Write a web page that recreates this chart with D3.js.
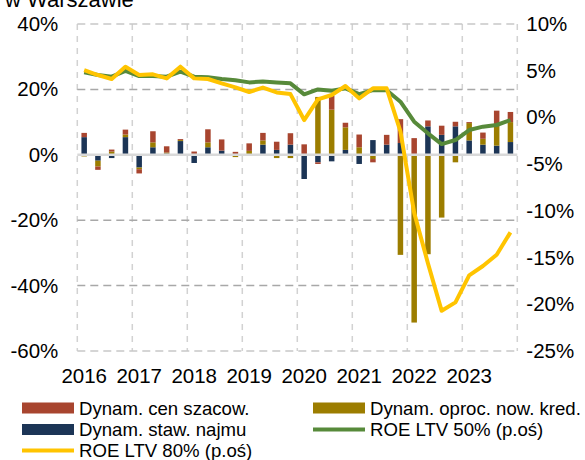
<!DOCTYPE html>
<html>
<head>
<meta charset="utf-8">
<script src="https://cdn.jsdelivr.net/npm/d3@7"></script>
<style>
  html, body { margin: 0; padding: 0; background: #fff; }
  svg { display: block; font-family: "Liberation Sans", Arial, sans-serif; }
</style>
</head>
<body>
<svg id="chart" width="585" height="460"></svg>
<script>
// Quarterly categories, 2016Q1 – 2023Q4
const quarters = [
  "2016Q1","2016Q2","2016Q3","2016Q4","2017Q1","2017Q2","2017Q3","2017Q4",
  "2018Q1","2018Q2","2018Q3","2018Q4","2019Q1","2019Q2","2019Q3","2019Q4",
  "2020Q1","2020Q2","2020Q3","2020Q4","2021Q1","2021Q2","2021Q3","2021Q4",
  "2022Q1","2022Q2","2022Q3","2022Q4","2023Q1","2023Q2","2023Q3","2023Q4"
];
const yearLabels = ["2016","2017","2018","2019","2020","2021","2022","2023"];

// Contributions (pp, left axis)
const rentDyn = [ 5.4,-1.8,-1.0, 5.4,-3.9, 2.3, 0.4, 4.2,
                 -2.5, 2.3, 1.3, 0.0, 0.0, 3.1, 1.5, 3.1,
                 -7.4,-2.3,-2.0, 1.5,-2.8, 4.5, 3.1, 3.6,
                  0.0, 8.7, 6.1, 8.7, 4.4, 3.1, 2.8, 3.9];
const creditDyn = [-0.5,-1.8, 1.0, 0.8,-0.5, 1.5, 0.3, 0.3,
                    0.0, 1.5, 0.0,-0.7, 1.2, 1.3,-1.0,-1.0,
                    0.0,17.7,13.8, 6.9, 2.3,-1.3,-0.3,-30.6,
                  -51.3,-30.4,-19.2,-2.3, 5.3, 1.8, 6.4, 6.1];
const priceDyn = [ 1.3,-1.0, 0.6, 1.5,-1.3, 3.4, 1.9, 0.3,
                   1.0, 4.0, 3.4, 0.9, 2.3, 2.3, 2.5, 3.5,
                   3.2,-0.5, 4.3, 1.4, 3.9,-1.0, 3.0, 7.3,
                   5.1, 1.8, 2.8, 1.4, 0.3, 1.9, 4.3, 3.1];

// ROE (%, right axis)
const roeLtv50 = [4.83,4.54,4.36,4.97,4.43,4.43,4.36,4.90,
                  4.36,4.29,4.11,3.97,3.75,3.85,3.75,3.65,
                  2.47,3.00,2.86,3.11,2.50,2.93,2.90,1.68,
                 -0.46,-1.70,-2.85,-2.42,-1.35,-0.99,-0.81,-0.28];
const roeLtv80 = [5.07,4.54,4.11,5.43,4.54,4.61,4.18,5.43,
                  4.18,4.11,3.65,3.22,2.72,3.20,2.68,2.50,
                 -0.28,1.93,2.40,3.36,2.04,3.11,3.11,-1.50,
                -10.20,-15.60,-20.70,-19.80,-16.90,-15.90,-14.70,-12.30];

const leftTicks = [40, 20, 0, -20, -40, -60];
const rightTicks = [10, 5, 0, -5, -10, -15, -20, -25];

const COL = {
  price: "#A8452F",
  credit: "#9C7D00",
  rent: "#1C3556",
  ltv50: "#578A3A",
  ltv80: "#FFC400"
};

const svg = d3.select("#chart");
const plot = { left: 77.3, right: 517.3, top: 24, bottom: 351 };
const FS = 20.5;

const x = d3.scaleBand().domain(quarters)
  .range([plot.left, plot.right]).paddingInner(0.6).paddingOuter(0.3);
const xYear = d3.scaleLinear().domain([2016, 2024]).range([plot.left, plot.right]);
const yL = d3.scaleLinear().domain([-60, 40]).range([plot.bottom, plot.top]);
const yR = d3.scaleLinear().domain([-25, 10]).range([plot.bottom, plot.top]);

// Title (last line of it, mostly above the canvas)
svg.append("text").attr("x", 5).attr("y", 6.5)
  .attr("font-size", 22).attr("fill", "#000").text("w Warszawie");

// Vertical year gridlines
svg.append("g").selectAll("line").data(d3.range(2016, 2025)).join("line")
  .attr("x1", d => xYear(d)).attr("x2", d => xYear(d))
  .attr("y1", plot.top).attr("y2", plot.bottom)
  .attr("stroke", "#d2d2d2").attr("stroke-width", 1.5)
  .attr("stroke-dasharray", "6,6");

// Horizontal gridlines
svg.append("g").selectAll("line").data(leftTicks.filter(d => d !== 0)).join("line")
  .attr("x1", plot.left).attr("x2", plot.right)
  .attr("y1", d => yL(d)).attr("y2", d => yL(d))
  .attr("stroke", d => (d === 40 || d === -60) ? "#c8c8c8" : "#a8a8a8")
  .attr("stroke-width", 1.5)
  .attr("stroke-dasharray", "8,5");

// Stacked bars (positive and negative parts stacked separately)
const rows = quarters.map((q, i) => ({ q, rent: rentDyn[i], credit: creditDyn[i], price: priceDyn[i] }));
const stack = d3.stack().keys(["rent", "credit", "price"]).offset(d3.stackOffsetDiverging);
const series = stack(rows);

svg.append("g").selectAll("g").data(series).join("g")
  .attr("fill", s => COL[s.key])
  .selectAll("rect").data(s => s).join("rect")
  .attr("x", d => x(d.data.q))
  .attr("width", x.bandwidth())
  .attr("y", d => yL(Math.max(d[0], d[1])))
  .attr("height", d => Math.abs(yL(d[0]) - yL(d[1])));

// Zero line
svg.append("line")
  .attr("x1", plot.left).attr("x2", plot.right)
  .attr("y1", yL(0)).attr("y2", yL(0))
  .attr("stroke", "#d9d9d9").attr("stroke-width", 2.5);

// ROE lines
const cx = q => x(q) + x.bandwidth() / 2;
const lineR = d3.line().x((d, i) => cx(quarters[i])).y(d => yR(d));
svg.append("path").datum(roeLtv50).attr("d", lineR)
  .attr("fill", "none").attr("stroke", COL.ltv50).attr("stroke-width", 4)
  .attr("stroke-linejoin", "round");
svg.append("path").datum(roeLtv80).attr("d", lineR)
  .attr("fill", "none").attr("stroke", COL.ltv80).attr("stroke-width", 4)
  .attr("stroke-linejoin", "round");

// Axes
const styleAxis = g => {
  g.select(".domain").remove();
  g.selectAll("text").attr("font-size", FS).attr("fill", "#000")
    .attr("font-family", "Liberation Sans, Arial, sans-serif");
};
svg.append("g").attr("transform", `translate(${plot.left},0)`)
  .call(d3.axisLeft(yL).tickValues(leftTicks).tickFormat(d => d + "%").tickSize(0).tickPadding(19))
  .call(styleAxis);
svg.append("g").attr("transform", `translate(${plot.right},0)`)
  .call(d3.axisRight(yR).tickValues(rightTicks).tickFormat(d => d + "%").tickSize(0).tickPadding(9))
  .call(styleAxis);
svg.append("g").attr("transform", `translate(0,${plot.bottom})`)
  .call(d3.axisBottom(x).tickValues(quarters.filter(q => q.endsWith("Q1")))
    .tickFormat(q => yearLabels[yearLabels.indexOf(q.slice(0, 4))]).tickSize(0).tickPadding(17.5))
  .call(styleAxis);

// Legend
const LFS = 18.6;
const legend = [
  { label: "Dynam. cen szacow.", type: "rect", color: COL.price, x: 22, y: 408 },
  { label: "Dynam. oproc. now. kred.", type: "rect", color: COL.credit, x: 313, y: 408 },
  { label: "Dynam. staw. najmu", type: "rect", color: COL.rent, x: 22, y: 429.5 },
  { label: "ROE LTV 50% (p.oś)", type: "line", color: COL.ltv50, x: 313, y: 429.5 },
  { label: "ROE LTV 80% (p.oś)", type: "line", color: COL.ltv80, x: 22, y: 450.5 }
];
const lg = svg.append("g").selectAll("g").data(legend).join("g");
lg.filter(d => d.type === "rect").append("rect")
  .attr("x", d => d.x).attr("y", d => d.y - 5.5).attr("width", 52).attr("height", 11)
  .attr("fill", d => d.color);
lg.filter(d => d.type === "line").append("line")
  .attr("x1", d => d.x).attr("x2", d => d.x + 52).attr("y1", d => d.y).attr("y2", d => d.y)
  .attr("stroke", d => d.color).attr("stroke-width", 4);
lg.append("text").attr("x", d => d.x + 57).attr("y", d => d.y).attr("dy", "0.35em")
  .attr("font-size", LFS).attr("fill", "#000").text(d => d.label);
</script>
</body>
</html>
